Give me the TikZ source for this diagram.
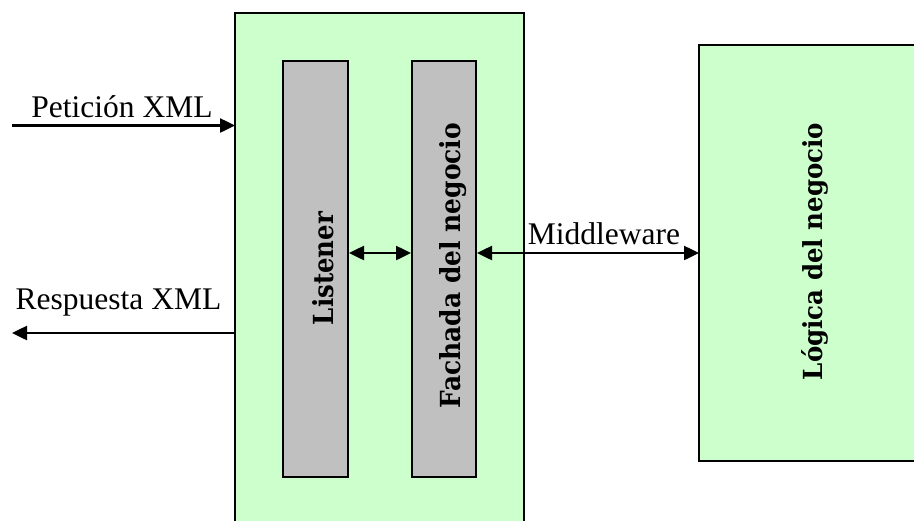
\documentclass[tikz,border=0pt]{standalone}
\usepackage{fontspec}
\setmainfont{Liberation Serif}
\newfontfamily\vfont{DejaVu Serif Bold}
\usetikzlibrary{arrows.meta}
\definecolor{boxgreen}{HTML}{CCFFCC}
\definecolor{boxgrey}{HTML}{C0C0C0}
\tikzset{
  greenbox/.style={draw=black, fill=boxgreen, line width=2pt},
  greybox/.style={draw=black, fill=boxgrey, line width=2pt},
  conn/.style={line width=2.5pt, -{Triangle[length=15pt,width=14pt]}},
  biconn/.style={line width=2.5pt, {Triangle[length=15pt,width=14pt]}-{Triangle[length=15pt,width=14pt]}},
  lbl/.style={anchor=base, inner sep=0pt, font=\fontsize{31.5}{36}\selectfont},
  vlbl/.style={anchor=base, inner sep=0pt, rotate=90},
}
\begin{document}
\begin{tikzpicture}[x=1pt,y=-1pt]
\useasboundingbox (0,0) rectangle (914,520);
\begin{scope}
\clip (0,0) rectangle (914,520);
% boxes
\draw[greenbox] (235,13) rectangle (524,540);
\draw[greenbox] (699,45) rectangle (940,461);
\end{scope}
\coordinate (mainW) at (235,0);
\coordinate (mainE) at (524,0);
\coordinate (logW) at (699,0);
\node[greybox, minimum width=65pt, minimum height=416pt, inner sep=0pt] (listener) at (315.5,269) {};
\node[greybox, minimum width=64pt, minimum height=416pt, inner sep=0pt] (fachada) at (444,269) {};
% vertical labels
\node[vlbl] (tlist) at (333,268.5) {\resizebox{113pt}{21pt}{\vfont Listener}};
\node[vlbl] (tfach) at (460,265.5) {\resizebox{285pt}{21pt}{\vfont Fachada del negocio}};
\node[vlbl] (tlog) at (822,251.5) {\resizebox{257pt}{21pt}{\vfont Lógica del negocio}};
% connectors
\coordinate (pin) at (12,125.5);
\coordinate (pout) at (12,333);
\draw[conn] (pin) -- (mainW |- pin);
\draw[conn] (mainW |- pout) -- (pout);
\coordinate (mid) at (0,253);
\draw[biconn] (listener.east |- mid) -- (fachada.west |- mid);
\draw[biconn] (fachada.east |- mid) -- (logW |- mid);
% labels
\node[lbl] (tpet) at (122,117) {Petición XML};
\node[lbl] (tres) at (118.5,309) {Respuesta XML};
\node[lbl] (tmid) at (604,244) {Middleware};
\end{tikzpicture}
\end{document}
